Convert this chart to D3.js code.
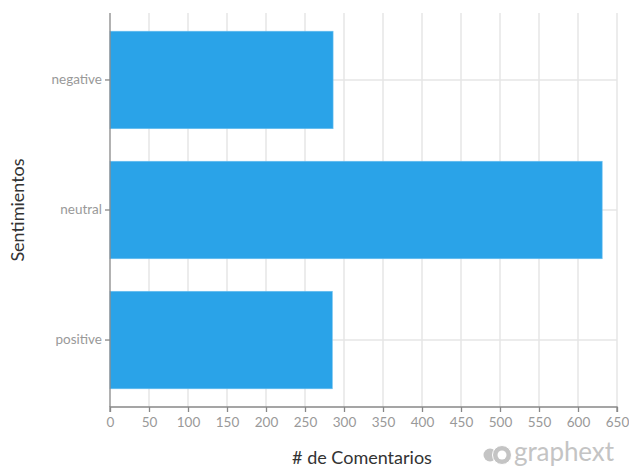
<!DOCTYPE html>
<html>
<head>
<meta charset="utf-8">
<script src="https://cdn.jsdelivr.net/npm/d3@7"></script>
<style>
  html, body { margin: 0; padding: 0; background: #fff; }
  svg { display: block; font-family: Lato, "Open Sans", sans-serif; }
</style>
</head>
<body>
<svg id="chart" width="629" height="468"></svg>
<script>
const categories = ["negative", "neutral", "positive"];
const values = [286, 631, 285];
const xTicks = [0, 50, 100, 150, 200, 250, 300, 350, 400, 450, 500, 550, 600, 650];
const xTitle = "# de Comentarios";
const yTitle = "Sentimientos";

const svg = d3.select("#chart");
const margin = { left: 110, right: 12, top: 13, bottom: 61 };

const x = d3.scaleLinear().domain([0, 650]).range([margin.left, 617]);
const y = d3.scaleBand().domain(categories).range([margin.top, 407]).paddingInner(0.25).paddingOuter(0.14);

const grid = svg.append("g");
grid.selectAll("line.v").data(xTicks.slice(1)).join("line")
  .attr("x1", d => x(d)).attr("x2", d => x(d))
  .attr("y1", margin.top).attr("y2", 407)
  .attr("stroke", "#e6e6e6").attr("stroke-width", 1.5);
grid.selectAll("line.h").data(categories).join("line")
  .attr("x1", x(0)).attr("x2", x(650))
  .attr("y1", d => y(d) + y.bandwidth() / 2).attr("y2", d => y(d) + y.bandwidth() / 2)
  .attr("stroke", "#e6e6e6").attr("stroke-width", 1.5);

svg.append("g").selectAll("rect").data(categories).join("rect")
  .attr("x", x(0))
  .attr("y", d => y(d))
  .attr("width", (d, i) => x(values[i]) - x(0))
  .attr("height", y.bandwidth())
  .attr("fill", "#2aa3e8")
  .attr("stroke", "#6cc0f0").attr("stroke-width", 0.6);

const xAxis = svg.append("g").attr("transform", "translate(0,407)")
  .call(d3.axisBottom(x).tickValues(xTicks).tickSize(5).tickPadding(5));
const yAxis = svg.append("g").attr("transform", `translate(${margin.left},0)`)
  .call(d3.axisLeft(y).tickSize(5).tickPadding(3));
[xAxis, yAxis].forEach(a => {
  a.select(".domain").attr("stroke", "#888").attr("stroke-width", 1.3);
  a.selectAll(".tick line").attr("stroke", "#888").attr("stroke-width", 1.3);
  a.selectAll(".tick text").attr("fill", "#999").attr("font-size", 13.5)
    .attr("font-family", "Lato, sans-serif");
});
xAxis.select(".domain").attr("d", `M${x(0)},5V0H${x(650)}V5`);
yAxis.select(".domain").attr("d", `M0,${margin.top}V407`);

svg.append("text").attr("x", 362).attr("y", 464).attr("text-anchor", "middle")
  .attr("font-size", 18).attr("fill", "#333").text(xTitle);
svg.append("text").attr("transform", "translate(24,210) rotate(-90)").attr("text-anchor", "middle")
  .attr("font-size", 18).attr("fill", "#333").text(yTitle);

// logo
const logo = svg.append("g").attr("fill", "#c4c4c4");
logo.append("circle").attr("cx", 490).attr("cy", 455).attr("r", 6.5);
logo.append("circle").attr("cx", 502).attr("cy", 455).attr("r", 9.5).attr("stroke", "#fff").attr("stroke-width", 1);
logo.append("circle").attr("cx", 502).attr("cy", 455).attr("r", 4.5).attr("fill", "#fff");
logo.append("text").attr("x", 514).attr("y", 461).attr("font-size", 26)
  .attr("font-family", "Lato, sans-serif").attr("textLength", 100).text("graphext");
</script>
</body>
</html>
